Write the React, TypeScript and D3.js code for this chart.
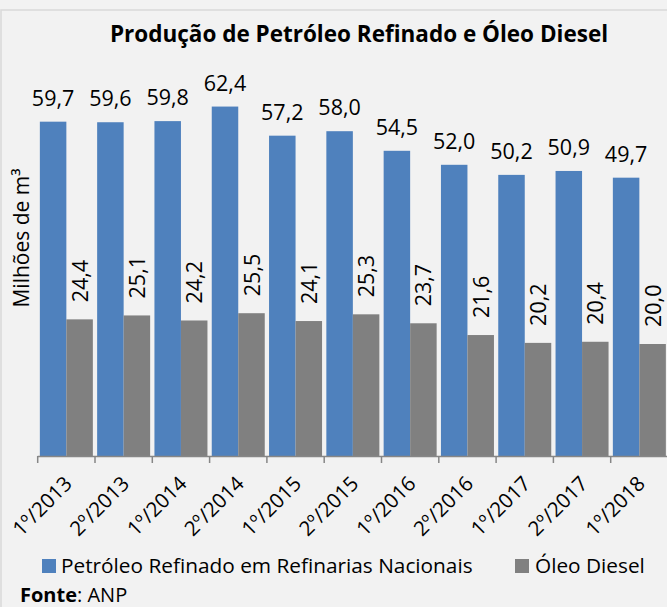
import React from "react";
import * as d3 from "d3";

const categories = ["1º/2013","2º/2013","1º/2014","2º/2014","1º/2015","2º/2015","1º/2016","2º/2016","1º/2017","2º/2017","1º/2018"];
const petroleo = [59.7,59.6,59.8,62.4,57.2,58.0,54.5,52.0,50.2,50.9,49.7];
const diesel = [24.4,25.1,24.2,25.5,24.1,25.3,23.7,21.6,20.2,20.4,20.0];
const seriesNames = ["Petróleo Refinado em Refinarias Nacionais","Óleo Diesel"];
const colors = ["#4f81bd","#808080"];

const W = 667, H = 607;
const FONT = "'Open Sans', sans-serif";
const fmt = (v: number) => v.toFixed(1).replace(".", ",");

export default function App() {
  React.useEffect(() => { document.body.style.margin = "0"; }, []);
  const baseY = 456;
  const x0 = d3.scaleBand<string>().domain(categories).range([37.7, 37.7 + 57.3 * categories.length]).paddingInner(0.075).paddingOuter(0.0375);
  const x1 = d3.scaleBand<number>().domain([0, 1]).range([0, x0.bandwidth()]);
  const y = d3.scaleLinear().domain([0, 70]).range([baseY, 64]);
  const step = x0.step();
  const ticks = d3.range(categories.length + 1).map(i => 37.7 + i * step);

  return (
    <svg width={W} height={H} style={{ display: "block", background: "#f2f2f2" }} fontFamily={FONT}>
      <rect x={0} y={0} width={W} height={H} fill="#f2f2f2" />
      <rect x={1} y={10} width={W + 10} height={H + 10} fill="none" stroke="#d9d9d9" strokeWidth={1.5} />
      <text x={359} y={42} textAnchor="middle" fontSize={22.5} fontWeight="bold" fill="#000">Produção de Petróleo Refinado e Óleo Diesel</text>
      <text transform={`translate(29,238) rotate(-90)`} textAnchor="middle" fontSize={21} fill="#000">Milhões de m³</text>
      {categories.map((c, i) => {
        const gx = x0(c)!;
        const bx = gx + x1(0)!;
        const dx = gx + x1(1)!;
        const bw = x1.bandwidth();
        return (
          <g key={c}>
            <rect x={bx} y={y(petroleo[i])} width={bw} height={baseY - y(petroleo[i])} fill={colors[0]} />
            <rect x={dx} y={y(diesel[i])} width={bw} height={baseY - y(diesel[i])} fill={colors[1]} />
            <text x={bx + bw / 2} y={y(petroleo[i]) - 16} textAnchor="middle" fontSize={21.5} fill="#000">{fmt(petroleo[i])}</text>
            <text transform={`translate(${dx + bw / 2 + 8},${y(diesel[i]) - 17}) rotate(-90)`} textAnchor="start" fontSize={21.5} fill="#000">{fmt(diesel[i])}</text>
            <text transform={`translate(${gx + x0.bandwidth() / 2 + 7},${485}) rotate(-45)`} textAnchor="end" fontSize={20.5} fill="#000">{c}</text>
          </g>
        );
      })}
      <line x1={37.7} x2={W} y1={baseY + 0.5} y2={baseY + 0.5} stroke="#868686" strokeWidth={1.5} />
      {ticks.map((t, i) => (
        <line key={i} x1={t} x2={t} y1={baseY} y2={baseY + 7} stroke="#868686" strokeWidth={1.5} />
      ))}
      <rect x={42} y={559} width={14} height={14} fill={colors[0]} />
      <text x={61} y={573} fontSize={20.8} fill="#000">{seriesNames[0]}</text>
      <rect x={515} y={559} width={14} height={14} fill={colors[1]} />
      <text x={535} y={573} fontSize={20.8} fill="#000">{seriesNames[1]}</text>
      <text x={20} y={602} fontSize={20} fill="#000"><tspan fontWeight="bold">Fonte</tspan>: ANP</text>
    </svg>
  );
}
